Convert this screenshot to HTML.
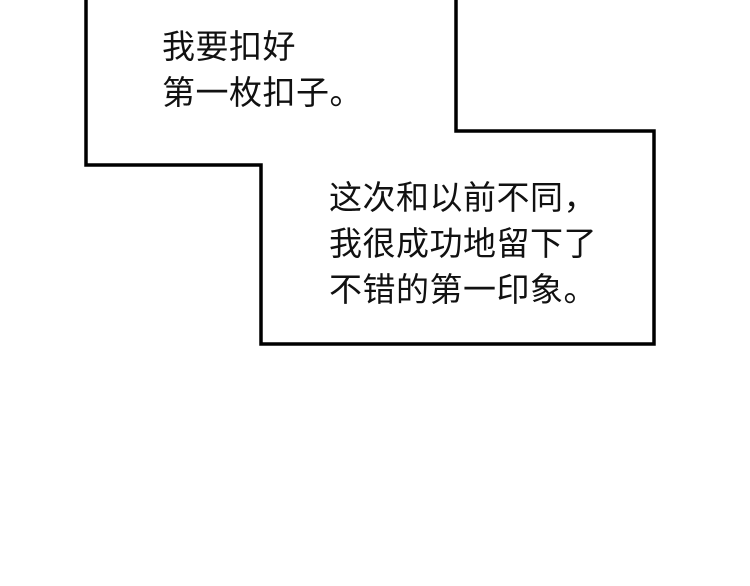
<!DOCTYPE html>
<html><head><meta charset="utf-8"><style>
html,body{margin:0;padding:0;background:#fff;}
body{width:750px;height:586px;position:relative;overflow:hidden;}
.t{position:absolute;font-family:"Liberation Sans","Noto Sans CJK SC",sans-serif;font-size:33px;line-height:46px;letter-spacing:0.5px;color:#111;white-space:nowrap;}
</style></head><body>
<svg width="750" height="586" style="position:absolute;left:0;top:0">
<path d="M86 0 V165 H261 V344 H654 V131 H456 V0" fill="none" stroke="#000" stroke-width="3.5"/>
</svg>
<div class="t" style="left:162px;top:24px;">我要扣好<br>第一枚扣子。</div>
<div class="t" style="left:329px;top:175px;">这次和以前不同，<br>我很成功地留下了<br>不错的第一印象。</div>
</body></html>
